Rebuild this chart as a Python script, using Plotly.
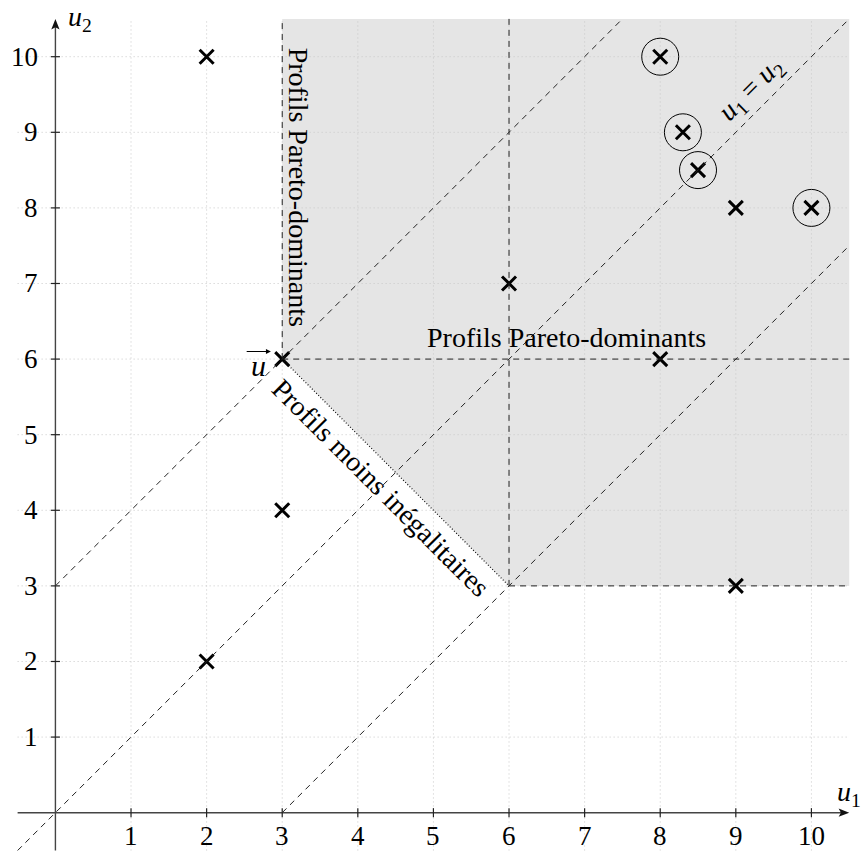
import plotly.graph_objects as go

# ---- data ----
ticks = [1, 2, 3, 4, 5, 6, 7, 8, 9, 10]
tick_labels = [str(t) for t in ticks]
points_x = [2, 2, 3, 3, 6, 8, 9, 9, 8, 8.3, 8.5, 10]
points_y = [10, 2, 4, 6, 7, 6, 8, 3, 10, 9, 8.5, 8]
circled_x = [8, 8.3, 8.5, 10]
circled_y = [10, 9, 8.5, 8]
ref_u = (3, 6)          # reference profile u
ref_eq = (6, 3)         # symmetric profile
lo, hi = -0.5, 10.5     # drawing extent

FONT = "'Liberation Serif', 'DejaVu Serif', 'Times New Roman', serif"
fig = go.Figure()

shapes = []
# shaded region
shapes.append(dict(type="path", layer="below",
                   path=f"M {ref_u[0]},{hi} L {ref_u[0]},{ref_u[1]} L {ref_eq[0]},{ref_eq[1]} "
                        f"L {hi},{ref_eq[1]} L {hi},{hi} Z",
                   fillcolor="#e5e5e5", line=dict(width=0)))
# grid
for t in ticks:
    shapes.append(dict(type="line", layer="below", x0=t, x1=t, y0=lo, y1=hi,
                       line=dict(color="#c8c8c8", width=1, dash="1px,3px")))
    shapes.append(dict(type="line", layer="below", x0=lo, x1=hi, y0=t, y1=t,
                       line=dict(color="#c8c8c8", width=1, dash="1px,3px")))

dash = dict(color="#222222", width=1, dash="6px,5px")
# diagonals
shapes.append(dict(type="line", x0=lo, y0=lo, x1=hi, y1=hi, line=dash))
shapes.append(dict(type="line", x0=0, y0=3, x1=hi - 3, y1=hi, line=dash))
shapes.append(dict(type="line", x0=3, y0=0, x1=hi, y1=hi - 3, line=dash))
# Pareto boundaries
shapes.append(dict(type="line", x0=ref_u[0], y0=ref_u[1], x1=ref_u[0], y1=hi, line=dash))
shapes.append(dict(type="line", x0=ref_u[0], y0=ref_u[1], x1=hi, y1=ref_u[1], line=dash))
shapes.append(dict(type="line", x0=ref_eq[0], y0=ref_eq[1], x1=ref_eq[0], y1=hi, line=dash))
shapes.append(dict(type="line", x0=ref_eq[0], y0=ref_eq[1], x1=hi, y1=ref_eq[1], line=dash))
# dotted edge
shapes.append(dict(type="line", x0=ref_u[0], y0=ref_u[1], x1=ref_eq[0], y1=ref_eq[1],
                   line=dict(color="#111111", width=1.2, dash="1px,2px")))

# axes
axc = "#444444"
shapes.append(dict(type="line", x0=lo, y0=0, x1=hi - 0.1, y1=0, line=dict(color=axc, width=1.4)))
shapes.append(dict(type="line", x0=0, y0=lo, x1=0, y1=hi - 0.1, line=dict(color=axc, width=1.4)))
shapes.append(dict(type="path", path=f"M {hi},0 L {hi-0.14},0.055 L {hi-0.11},0 L {hi-0.14},-0.055 Z",
                   fillcolor="#111", line=dict(width=0)))
shapes.append(dict(type="path", path=f"M 0,{hi} L 0.055,{hi-0.14} L 0,{hi-0.11} L -0.055,{hi-0.14} Z",
                   fillcolor="#111", line=dict(width=0)))
for t in ticks:
    shapes.append(dict(type="line", x0=t, x1=t, y0=-0.06, y1=0.06, line=dict(color="#222", width=1.2)))
    shapes.append(dict(type="line", y0=t, y1=t, x0=-0.06, x1=0.06, line=dict(color="#222", width=1.2)))

# points
fig.add_trace(go.Scatter(x=points_x, y=points_y, mode="markers",
                         marker=dict(symbol="x-thin", size=14, color="black",
                                     line=dict(width=3, color="black")),
                         hoverinfo="skip"))
fig.add_trace(go.Scatter(x=circled_x, y=circled_y, mode="markers",
                         marker=dict(symbol="circle-open", size=37, color="black",
                                     line=dict(width=1, color="black")),
                         hoverinfo="skip"))

ann = []
for t, lab in zip(ticks, tick_labels):
    ann.append(dict(x=t, y=-0.31, text=lab, showarrow=False, xanchor="center", yanchor="middle",
                    font=dict(family=FONT, size=27, color="black")))
    ann.append(dict(x=-0.2, y=t, text=lab, showarrow=False, xanchor="right", yanchor="middle",
                    font=dict(family=FONT, size=27, color="black")))

tf = dict(family=FONT, size=28, color="black")
ann.append(dict(x=3.22, y=8.27, text="Profils Pareto-dominants", textangle=90, showarrow=False, font=tf))
ann.append(dict(x=6.76, y=6.28, text="Profils Pareto-dominants", showarrow=False, font=tf))
ann.append(dict(x=4.30, y=4.30, text="Profils moins inégalitaires", textangle=45, showarrow=False, font=tf))
ann.append(dict(x=9.21, y=9.56, text="<i>u</i><sub>1</sub> = <i>u</i><sub>2</sub>", textangle=-45,
                showarrow=False, font=tf))
ann.append(dict(x=ref_u[0] - 0.32, y=ref_u[1] - 0.08, text="<i>u</i>", showarrow=False,
                font=dict(family=FONT, size=30, color="black")))
# vector arrow over u
ann.append(dict(x=ref_u[0] - 0.15, y=ref_u[1] + 0.1, ax=ref_u[0] - 0.49, ay=ref_u[1] + 0.1,
                axref="x", ayref="y", xref="x", yref="y", text="", showarrow=True,
                arrowhead=2, arrowsize=0.9, arrowwidth=1.1, arrowcolor="black", standoff=0))
ann.append(dict(x=0.33, y=10.5, text="<i>u</i><sub>2</sub>", showarrow=False, font=tf))
ann.append(dict(x=10.5, y=0.25, text="<i>u</i><sub>1</sub>", showarrow=False, font=tf))

fig.update_layout(width=862, height=856, autosize=False,
                  margin=dict(l=0, r=0, t=0, b=0),
                  paper_bgcolor="white", plot_bgcolor="white",
                  showlegend=False, shapes=shapes, annotations=ann,
                  xaxis=dict(visible=False, range=[-0.733, 10.669], fixedrange=True),
                  yaxis=dict(visible=False, range=[-0.573, 10.750], fixedrange=True))
fig.write_html("out.html")
